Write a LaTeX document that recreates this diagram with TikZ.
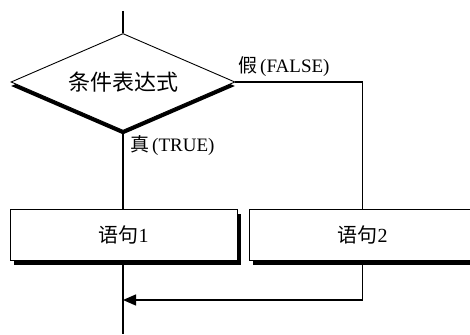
\documentclass[tikz,border=0pt]{standalone}
\usepackage{fontspec}
\setmainfont{Liberation Serif}
\newfontfamily\cjk{Noto Sans CJK SC}
\usetikzlibrary{shapes.geometric,arrows.meta,shadows}
\begin{document}
\begin{tikzpicture}[x=1pt,y=-1pt,
  conn/.style={line width=1.3pt},
  cond/.style={diamond, aspect=2.3, draw, line width=0.9pt, fill=white,
    minimum width=224pt, minimum height=97pt, inner sep=0pt,
    font=\cjk\fontsize{22}{26}\selectfont,
    general shadow={fill=black, shadow xshift=0pt, shadow yshift=-4pt}},
  stmt/.style={rectangle, draw, line width=0.9pt, fill=white,
    minimum width=227pt, minimum height=51pt, inner sep=0pt,
    font=\fontsize{20}{24}\selectfont,
    general shadow={fill=black, shadow xshift=4pt, shadow yshift=-5pt}},
  lbl/.style={font=\fontsize{19}{22}\selectfont, inner sep=0pt}]
\useasboundingbox (0,0) rectangle (470,334);
\clip (0,0) rectangle (470,334);
\node[cond] (c) at (123,82) {条件表达式};
\node[stmt] (s1) at (123.5,234.5) {{\cjk 语句}1};
\node[stmt] (s2) at (362.5,234.5) {{\cjk 语句}2};
\coordinate (top) at (123,11);
\coordinate (bot) at (123,334);
\coordinate (m) at (123,300);
\draw[conn] (top) -- (c.north);
\draw[conn] (c.south) -- (c.south |- s1.north);
\draw[conn] (c.east) -| (s2.north);
\draw[conn] (c.south |- s1.south) -- (bot);
\draw[conn,-{Triangle[length=13pt,width=11pt]}] (s2.south) |- (m);
\node[lbl, anchor=west] (lt) at (130,145.5) {{\cjk 真}\hspace{3pt}(TRUE)};
\node[lbl, anchor=west] (lf) at (238,67) {{\cjk 假}\hspace{3pt}(FALSE)};
\end{tikzpicture}
\end{document}
